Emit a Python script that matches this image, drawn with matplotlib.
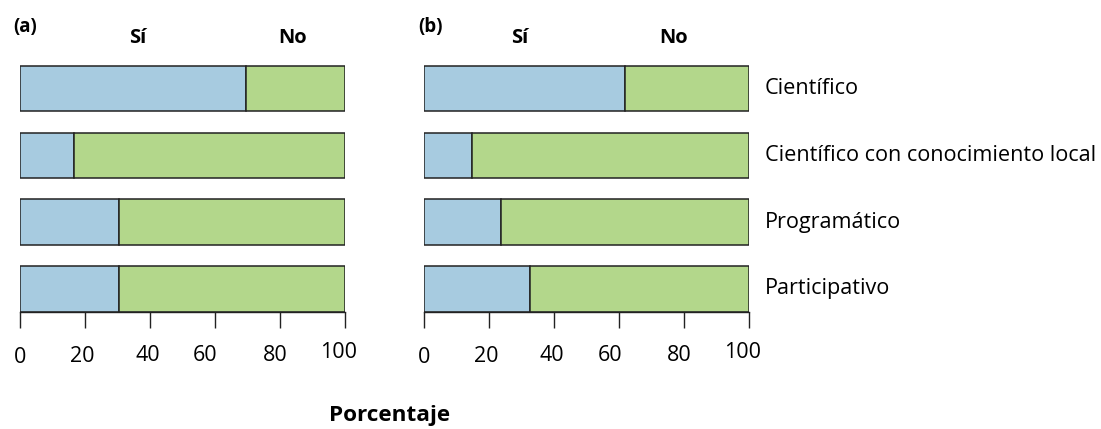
import matplotlib
matplotlib.use("Agg")
import matplotlib.pyplot as plt
import matplotlib.transforms as mtransforms
import numpy as np

plt.rcParams['font.family'] = ['Open Sans', 'DejaVu Sans']

categories = ["Científico", "Científico con conocimiento local", "Programático", "Participativo"]
si_a = [69.5, 16.6, 30.5, 30.5]
si_b = [61.9, 14.8, 23.6, 32.4]
ticks = [0, 20, 40, 60, 80, 100]
tick_labels = ["0", "20", "40", "60", "80", "100"]
col_si = "#A7CBE0"
col_no = "#B3D78B"

W, H = 1101, 429
fig = plt.figure(figsize=(W / 100, H / 100), dpi=100)

ypos = np.arange(len(categories))[::-1]  # top to bottom
bh = 0.68
ybot = -bh / 2
ytop = ybot + (311.7 - 60) / 66.8

def px(x0, y0, w, h):
    return [x0 / W, 1 - (y0 + h) / H, w / W, h / H]

axes = [fig.add_axes(px(20, 60, 325, 251.7)), fig.add_axes(px(424.3, 60, 325, 251.7))]
data = [si_a, si_b]
fs = 15.6
fs_tick = 15.5
fs_head = 14.5
# small per-label offsets in reference (points)
label_dx = [0, -2, -1.5, -7, -3.5, -5]
label_dy = [-4, -3, -2.5, -2.5, -2, 0]

for ax, si in zip(axes, data):
    si = np.array(si)
    no = 100 - si
    ax.barh(ypos, si, height=bh, color=col_si, edgecolor="#222222", linewidth=1.1)
    ax.barh(ypos, no, left=si, height=bh, color=col_no, edgecolor="#222222", linewidth=1.1)
    ax.set_xlim(0, 100)
    ax.set_ylim(ybot, ytop)
    for s in ["top", "right", "left"]:
        ax.spines[s].set_visible(False)
    ax.spines["bottom"].set_linewidth(1.0)
    ax.spines["bottom"].set_color("#222222")
    ax.set_yticks([])
    ax.set_xticks(ticks)
    ax.set_xticklabels(tick_labels, fontsize=fs_tick)
    ax.tick_params(axis="x", direction="out", length=11.2, width=1.0, color="#222222", pad=10.5)
    for lab, dx, dy in zip(ax.get_xticklabels(), label_dx, label_dy):
        lab.set_transform(lab.get_transform() + mtransforms.ScaledTranslation(dx / 72, dy / 72, fig.dpi_scale_trans))

# headers
trans_a = mtransforms.blended_transform_factory(axes[0].transData, fig.transFigure)
trans_b = mtransforms.blended_transform_factory(axes[1].transData, fig.transFigure)
yh = 1 - 38 / H
axes[0].text(36.3, yh, "Sí", transform=trans_a, ha="center", va="center", fontsize=fs_head, fontweight="bold")
axes[0].text(84.0, yh, "No", transform=trans_a, ha="center", va="center", fontsize=fs_head, fontweight="bold")
axes[1].text(29.3, yh, "Sí", transform=trans_b, ha="center", va="center", fontsize=fs_head, fontweight="bold")
axes[1].text(76.8, yh, "No", transform=trans_b, ha="center", va="center", fontsize=fs_head, fontweight="bold")

fig.text(13 / W, 1 - 27 / H, "(a)", ha="left", va="center", fontsize=13.5, fontweight="bold")
fig.text(418 / W, 1 - 27 / H, "(b)", ha="left", va="center", fontsize=13.5, fontweight="bold")

# category labels
for y, c in zip(ypos, categories):
    axes[1].annotate(c, xy=(100, y), xytext=(11, 0), textcoords="offset points",
                     ha="left", va="center", fontsize=fs, annotation_clip=False)

fig.text(390 / W, 1 - 416 / H, "Porcentaje", ha="center", va="center", fontsize=16.2, fontweight="bold")

fig.savefig("out.png", dpi=100)
